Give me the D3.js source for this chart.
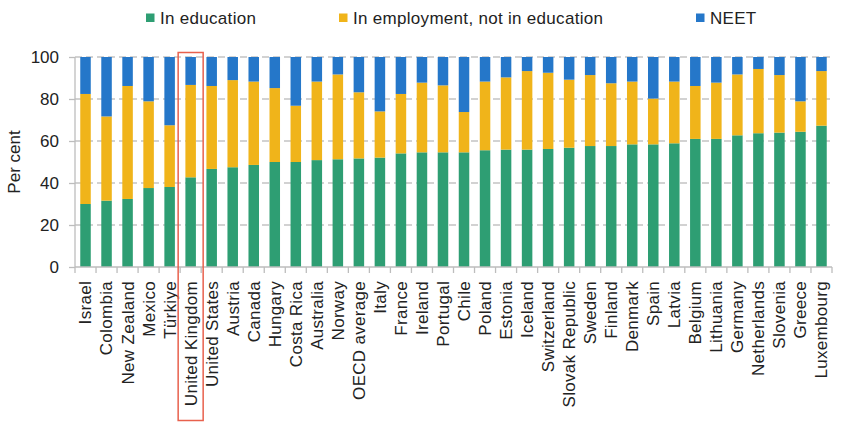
<!DOCTYPE html>
<html>
<head>
<meta charset="utf-8">
<script src="https://cdn.jsdelivr.net/npm/d3@7"></script>
<style>
  body { margin: 0; background: #fff; }
  text { font-family: "Liberation Sans", Arial, sans-serif; fill: #222; }
</style>
</head>
<body>
<div id="chart"></div>
<script>
var width = 848,
    height = 423;

var countries = ["Israel", "Colombia", "New Zealand", "Mexico", "Türkiye", "United Kingdom",
    "United States", "Austria", "Canada", "Hungary", "Costa Rica", "Australia", "Norway",
    "OECD average", "Italy", "France", "Ireland", "Portugal", "Chile", "Poland", "Estonia",
    "Iceland", "Switzerland", "Slovak Republic", "Sweden", "Finland", "Denmark", "Spain",
    "Latvia", "Belgium", "Lithuania", "Germany", "Netherlands", "Slovenia", "Greece", "Luxembourg"];

// share in education (per cent)
var inEducation = [30.0, 31.6, 32.4, 37.6, 38.1, 42.7, 46.7, 47.5, 48.6, 50.0, 50.0, 50.9,
    51.3, 51.7, 52.1, 54.1, 54.6, 54.6, 54.6, 55.6, 55.9, 55.9, 56.2, 56.8, 57.6, 57.6,
    58.4, 58.4, 58.9, 61.0, 61.0, 62.7, 63.7, 64.0, 64.4, 67.3];

// in employment, not in education
var inEmployment = [52.4, 40.1, 53.8, 41.3, 29.4, 44.0, 39.5, 41.5, 39.7, 35.2, 26.8, 37.4,
    40.4, 31.5, 22.0, 28.3, 33.2, 31.9, 19.2, 32.7, 34.4, 37.4, 36.3, 32.4, 33.8, 29.9,
    29.9, 21.8, 29.4, 25.2, 26.8, 29.0, 30.6, 27.4, 14.5, 26.0];

// NEET = the rest
var neet = inEducation.map(function(d, i) { return 100 - d - inEmployment[i]; });

var seriesNames = ["In education", "In employment, not in education", "NEET"];
var colors = ["#2e9e73", "#f0b41a", "#2577c9"];
var yTicks = [0, 20, 40, 60, 80, 100];
var highlight = "United Kingdom";

var margin = {top: 57, right: 16, bottom: 156, left: 75};

var svg = d3.select("#chart").append("svg")
    .attr("width", width)
    .attr("height", height);

var x = d3.scaleBand()
    .domain(countries)
    .range([margin.left, width - margin.right])
    .paddingInner(0.5)
    .paddingOuter(0.25);

var y = d3.scaleLinear()
    .domain([0, 100])
    .range([height - margin.bottom, margin.top]);

// gridlines
svg.append("g")
    .selectAll("line")
    .data(yTicks.slice(1))
    .enter().append("line")
    .attr("x1", margin.left)
    .attr("x2", width - margin.right)
    .attr("y1", function(d) { return y(d); })
    .attr("y2", function(d) { return y(d); })
    .attr("stroke", "#c4c4c4")
    .attr("stroke-width", 1.3)
    .attr("stroke-dasharray", "7,4");

// stacked bars
var table = countries.map(function(c, i) {
    return {country: c, s0: inEducation[i], s1: inEmployment[i], s2: neet[i]};
});
var stack = d3.stack().keys(["s0", "s1", "s2"])(table);

svg.append("g")
    .selectAll("g")
    .data(stack)
    .enter().append("g")
    .attr("fill", function(d, i) { return colors[i]; })
    .selectAll("rect")
    .data(function(d) { return d; })
    .enter().append("rect")
    .attr("x", function(d) { return x(d.data.country); })
    .attr("width", x.bandwidth())
    .attr("y", function(d) { return y(d[1]); })
    .attr("height", function(d) { return y(d[0]) - y(d[1]); });

// y axis
var yAxis = svg.append("g")
    .attr("transform", "translate(" + margin.left + ",0)")
    .call(d3.axisLeft(y).tickValues(yTicks).tickSize(6).tickPadding(10));
yAxis.selectAll("line, path").attr("stroke", "#bdbdbd").attr("stroke-width", 1.3);
yAxis.select("path").attr("d", "M0," + y(100) + "V" + y(0));
yAxis.selectAll("text")
    .style("font-size", "17px")
    .style("font-family", "'Liberation Sans', Arial, sans-serif")
    .attr("fill", "#222");

svg.append("text")
    .attr("transform", "translate(20," + y(50) + ") rotate(-90)")
    .attr("text-anchor", "middle")
    .style("font-size", "17px")
    .text("Per cent");

// x axis: baseline plus ticks at band boundaries
var xg = svg.append("g");
xg.append("line")
    .attr("x1", margin.left)
    .attr("x2", width - margin.right)
    .attr("y1", y(0))
    .attr("y2", y(0))
    .attr("stroke", "#bdbdbd")
    .attr("stroke-width", 1.3);

var step = x.step();
var bounds = d3.range(countries.length + 1).map(function(i) { return margin.left + i * step; });
xg.selectAll("line.tick")
    .data(bounds)
    .enter().append("line")
    .attr("class", "tick")
    .attr("x1", function(d) { return d; })
    .attr("x2", function(d) { return d; })
    .attr("y1", y(0))
    .attr("y2", y(0) + 6)
    .attr("stroke", "#bdbdbd")
    .attr("stroke-width", 1.3);

xg.selectAll("text")
    .data(countries)
    .enter().append("text")
    .attr("transform", function(d) {
        return "translate(" + (x(d) + x.bandwidth() / 2) + "," + (y(0) + 14) + ") rotate(-90)";
    })
    .attr("text-anchor", "end")
    .attr("dy", "0.35em")
    .style("font-size", "17px")
    .style("letter-spacing", "0.3px")
    .text(function(d) { return d; });

// highlight box
var hx = x(highlight) + x.bandwidth() / 2;
svg.append("rect")
    .attr("x", hx - 12.5)
    .attr("y", 52.5)
    .attr("width", 25)
    .attr("height", 368)
    .attr("fill", "none")
    .attr("stroke", "#e8614d")
    .attr("stroke-width", 1.5);

// legend
var legendX = [146, 339, 696];
var legend = svg.append("g")
    .selectAll("g")
    .data(seriesNames)
    .enter().append("g")
    .attr("transform", function(d, i) { return "translate(" + legendX[i] + ",13.5)"; });
legend.append("rect")
    .attr("width", 8.5)
    .attr("height", 8.5)
    .attr("fill", function(d, i) { return colors[i]; });
legend.append("text")
    .attr("x", 14)
    .attr("y", 4.5)
    .attr("dy", "0.35em")
    .style("font-size", "17px")
    .style("letter-spacing", "0.3px")
    .text(function(d) { return d; });
</script>
</body>
</html>
